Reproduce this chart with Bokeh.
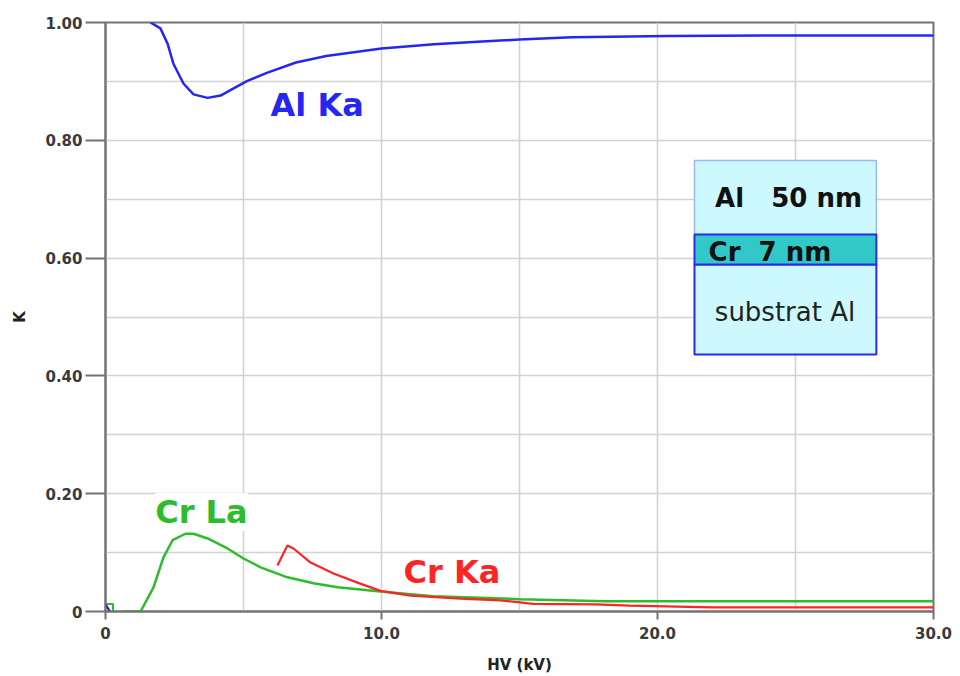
from bokeh.plotting import figure
from bokeh.models import FixedTicker, Label, Range1d
from bokeh.embed import file_html
from bokeh.resources import INLINE

# k-ratio versus accelerating voltage, Al 50 nm / Cr 7 nm / Al substrate
al_ka_hv = [1.63, 1.99, 2.25, 2.46, 2.83, 3.19, 3.70, 4.17, 4.64, 5.14, 5.87,
            6.90, 8.00, 10.0, 11.9, 13.8, 15.0, 16.9, 20.4, 24.8, 30.0]
al_ka_k = [1.000, 0.990, 0.964, 0.930, 0.896, 0.878, 0.872, 0.876, 0.888, 0.901, 0.915,
           0.932, 0.943, 0.956, 0.963, 0.968, 0.971, 0.975, 0.977, 0.978, 0.978]

cr_la_hv = [0.62, 1.27, 1.74, 2.10, 2.43, 2.90, 3.19, 3.70, 4.42, 5.00, 5.62,
            6.59, 7.54, 8.41, 9.96, 11.88, 15.0, 18.1, 30.0]
cr_la_k = [0.0, 0.0, 0.041, 0.092, 0.121, 0.132, 0.132, 0.124, 0.107, 0.090, 0.075,
           0.058, 0.048, 0.041, 0.034, 0.026, 0.021, 0.0175, 0.0175]

cr_ka_hv = [6.23, 6.59, 6.81, 7.43, 8.26, 9.13, 9.96, 11.05, 12.86, 14.3, 15.5,
            17.75, 19.0, 22.0, 30.0]
cr_ka_k = [0.078, 0.112, 0.107, 0.083, 0.0645, 0.049, 0.035, 0.027, 0.022, 0.019, 0.013,
           0.012, 0.010, 0.007, 0.007]

x_ticks = [0, 10, 20, 30]
x_tick_labels = ["0", "10.0", "20.0", "30.0"]
y_ticks = [0, 0.2, 0.4, 0.6, 0.8, 1.0]
y_tick_labels = ["0", "0.20", "0.40", "0.60", "0.80", "1.00"]

BLUE = "#2626f2"
GREEN = "#2cbc2c"
RED = "#ff2424"
AXIS_GRAY = "#737373"
TICK_TEXT = "#3a3a3a"
FONT = "DejaVu Sans"
NB = "\u00a0"

p = figure(width=960, height=676, output_backend="svg", toolbar_location=None,
           x_range=Range1d(0, 30), y_range=Range1d(0, 1),
           min_border_left=105, min_border_right=27, min_border_top=22, min_border_bottom=65,
           background_fill_color="white", border_fill_color="white")

p.outline_line_color = AXIS_GRAY
p.outline_line_width = 2

# grid: every 5 kV and every 0.1 in K
p.xgrid.ticker = FixedTicker(ticks=[5, 10, 15, 20, 25])
p.ygrid.ticker = FixedTicker(ticks=[0.1, 0.2, 0.3, 0.4, 0.5, 0.6, 0.7, 0.8, 0.9])
for g in (p.xgrid, p.ygrid):
    g.grid_line_color = "#d2d2d2"
    g.grid_line_width = 1.6

xa = p.xaxis[0]
xa.ticker = FixedTicker(ticks=x_ticks)
xa.major_label_overrides = dict(zip(x_ticks, x_tick_labels))
xa.major_tick_out = 8
xa.major_label_standoff = 7
xa.axis_label = "HV (kV)"
xa.axis_label_standoff = 14

ya = p.yaxis[0]
ya.ticker = FixedTicker(ticks=y_ticks)
ya.major_label_overrides = dict(zip(y_ticks, y_tick_labels))
ya.major_tick_out = 20
ya.major_label_standoff = 3
ya.axis_label = "K"
ya.axis_label_standoff = 13

for ax in (xa, ya):
    ax.axis_line_color = AXIS_GRAY
    ax.axis_line_width = 2
    ax.major_tick_line_color = AXIS_GRAY
    ax.major_tick_line_width = 2
    ax.major_tick_in = 0
    ax.minor_tick_line_color = None
    ax.major_label_text_font = FONT
    ax.major_label_text_font_style = "bold"
    ax.major_label_text_font_size = "15px"
    ax.major_label_text_color = TICK_TEXT
    ax.axis_label_text_font = FONT
    ax.axis_label_text_font_style = "bold"
    ax.axis_label_text_font_size = "15px"
    ax.axis_label_text_color = "#222222"

# sample sketch: Al layer, Cr layer, Al substrate
box_left, box_right = 21.34, 27.93
p.quad(left=[box_left], right=[box_right], bottom=[0.640], top=[0.7657],
       fill_color="#cdf8fd", line_color="#9bb6f6", line_width=1.5)
p.quad(left=[box_left], right=[box_right], bottom=[0.4363], top=[0.589],
       fill_color="#cdf8fd", line_color="#2a2af0", line_width=2)
p.quad(left=[box_left], right=[box_right], bottom=[0.589], top=[0.640],
       fill_color="#33c8c8", line_color="#2a2af0", line_width=2)

# curves
p.line(al_ka_hv, al_ka_k, line_color=BLUE, line_width=2.5)
p.line(cr_la_hv, cr_la_k, line_color=GREEN, line_width=2.5)
p.line(cr_ka_hv, cr_ka_k, line_color=RED, line_width=2.2)

# markers at the origin
p.scatter([0], [0], marker="square", size=15, fill_color=None,
          line_color=GREEN, line_width=2)
p.scatter([0], [0], marker="triangle", size=13, fill_color=None,
          line_color="#1010ee", line_width=2)


def add_label(x, y, text, color, size, style="bold", align="left", bg=None):
    kw = {}
    if bg is not None:
        kw = dict(background_fill_color=bg, padding=0)
    p.add_layout(Label(x=x, y=y, text=text, text_color=color, text_font=FONT,
                       text_font_size=size, text_font_style=style, text_align=align,
                       text_baseline="alphabetic", **kw))


add_label(5.98, 0.860, "Al Ka", BLUE, "32px")
add_label(1.80, 0.169, "Cr La", GREEN, "32px", bg="white")
add_label(10.8, 0.067, "Cr Ka", RED, "32px")

add_label(24.75, 0.702, "Al" + NB * 3 + "50 nm", "#111111", "26px", align="center")
add_label(21.85, 0.610, "Cr" + NB + " 7 nm", "#111111", "26px")
add_label(24.62, 0.508, "substrat Al", "#222222", "26px", style="normal", align="center")

open("out.html", "w").write(file_html(p, INLINE))
